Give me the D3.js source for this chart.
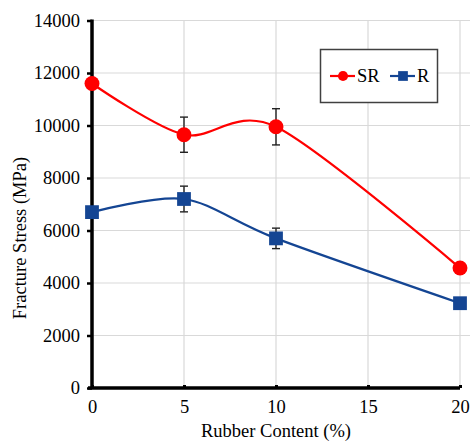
<!DOCTYPE html>
<html>
<head>
<meta charset="utf-8">
<script src="https://cdn.jsdelivr.net/npm/d3@7"></script>
<style>
  body { margin: 0; background: #fff; }
  svg text { font-family: "Liberation Serif", "DejaVu Serif", "Times New Roman", serif !important; fill: #000; }
</style>
</head>
<body>
<div id="app"></div>
<script>
// data
var rubber = [0, 5, 10, 20];
var srValues = [11600, 9650, 9950, 4570];
var srErrors = [0, 670, 690, 120];
var rValues = [6700, 7200, 5700, 3230];
var rErrors = [0, 490, 390, 100];
var xTicks = [0, 5, 10, 15, 20];
var yTicks = [0, 2000, 4000, 6000, 8000, 10000, 12000, 14000];

var width = 470, height = 441;
var red = '#ff0000', blue = '#144593';
var serif = '"Liberation Serif", "DejaVu Serif", serif';

var x = d3.scaleLinear().domain([0, 20]).range([92, 460]);
var y = d3.scaleLinear().domain([0, 14000]).range([388, 20.5]);

var svg = d3.select('#app').append('svg')
            .attr('width', width)
            .attr('height', height)
            .attr('font-family', serif);

// gridlines
svg.append('g').selectAll('line').data(yTicks.slice(1)).join('line')
   .attr('x1', x(0)).attr('x2', width)
   .attr('y1', d => y(d)).attr('y2', d => y(d))
   .attr('stroke', '#d9d9d9').attr('stroke-width', 1.2);
svg.append('g').selectAll('line').data(xTicks.slice(1)).join('line')
   .attr('x1', d => x(d)).attr('x2', d => x(d))
   .attr('y1', y(14000)).attr('y2', y(0))
   .attr('stroke', '#d9d9d9').attr('stroke-width', 1.2);

// axes
var yAxis = svg.append('g')
               .attr('transform', 'translate(' + x(0) + ',0)')
               .call(d3.axisLeft(y).tickValues(yTicks).tickSize(5).tickPadding(7).tickFormat(d3.format('d')))
               .attr('font-family', serif);
yAxis.select('.domain').attr('stroke', '#000').attr('stroke-width', 3.5).attr('d', 'M0,' + (y(0) + 1) + 'V' + (y(14000) - 1));
yAxis.selectAll('.tick line').attr('stroke', '#000').attr('stroke-width', 2.5);
yAxis.selectAll('.tick text').style('font-size', '18.5px');

var xAxis = svg.append('g')
               .attr('transform', 'translate(0,' + y(0) + ')')
               .call(d3.axisBottom(x).tickValues(xTicks).tickSize(-3).tickPadding(12))
               .attr('font-family', serif);
xAxis.select('.domain').attr('stroke', '#000').attr('stroke-width', 3.5).attr('d', 'M' + (x(0) - 4) + ',0H' + x(20));
xAxis.selectAll('.tick line').attr('stroke', '#000').attr('stroke-width', 3);
xAxis.selectAll('.tick text').style('font-size', '18.5px');

// axis titles
svg.append('text')
   .attr('transform', 'translate(26,' + 238 + ') rotate(-90)')
   .attr('text-anchor', 'middle')
   .style('font-size', '18.5px')
   .text('Fracture Stress (MPa)');
svg.append('text')
   .attr('x', 276).attr('y', 437)
   .attr('text-anchor', 'middle')
   .style('font-size', '18.5px')
   .text('Rubber Content (%)');

var line = d3.line()
             .x(d => x(d[0]))
             .y(d => y(d[1]))
             .curve(d3.curveCardinal.tension(0.1));

function drawSeries(values, errors, color, shape) {
  var pts = rubber.map((r, i) => [r, values[i], errors[i]]);
  svg.append('path')
     .datum(pts)
     .attr('d', line)
     .attr('fill', 'none')
     .attr('stroke', color)
     .attr('stroke-width', 2.2);

  var eb = svg.append('g').selectAll('g').data(pts.filter(p => p[2] > 0)).join('g')
              .attr('stroke', '#222').attr('stroke-width', 1.4);
  eb.append('line')
    .attr('x1', d => x(d[0])).attr('x2', d => x(d[0]))
    .attr('y1', d => y(d[1] + d[2])).attr('y2', d => y(d[1] - d[2]));
  eb.append('line')
    .attr('x1', d => x(d[0]) - 4).attr('x2', d => x(d[0]) + 4)
    .attr('y1', d => y(d[1] + d[2])).attr('y2', d => y(d[1] + d[2]));
  eb.append('line')
    .attr('x1', d => x(d[0]) - 4).attr('x2', d => x(d[0]) + 4)
    .attr('y1', d => y(d[1] - d[2])).attr('y2', d => y(d[1] - d[2]));

  var sym = d3.symbol().type(shape).size(shape === d3.symbolCircle ? 175 : 190);
  svg.append('g').selectAll('path').data(pts).join('path')
     .attr('transform', d => 'translate(' + x(d[0]) + ',' + y(d[1]) + ')')
     .attr('d', sym)
     .attr('fill', color);
}

drawSeries(srValues, srErrors, red, d3.symbolCircle);
drawSeries(rValues, rErrors, blue, d3.symbolSquare);

// legend
var legend = svg.append('g');
legend.append('rect')
      .attr('x', 320.5).attr('y', 49.5).attr('width', 117).attr('height', 53)
      .attr('fill', '#fff').attr('stroke', '#404040').attr('stroke-width', 1.5);
var items = [
  {name: 'SR', color: red, shape: d3.symbolCircle, x: 330},
  {name: 'R', color: blue, shape: d3.symbolSquare, x: 390}
];
items.forEach(function(it) {
  legend.append('line')
        .attr('x1', it.x).attr('x2', it.x + 25)
        .attr('y1', 76).attr('y2', 76)
        .attr('stroke', it.color).attr('stroke-width', 2.2);
  legend.append('path')
        .attr('transform', 'translate(' + (it.x + 13) + ',76)')
        .attr('d', d3.symbol().type(it.shape).size(it.shape === d3.symbolCircle ? 80 : 95))
        .attr('fill', it.color);
  legend.append('text')
        .attr('x', it.x + 27).attr('y', 82)
        .style('font-size', '18.5px')
        .text(it.name);
});
</script>
</body>
</html>
